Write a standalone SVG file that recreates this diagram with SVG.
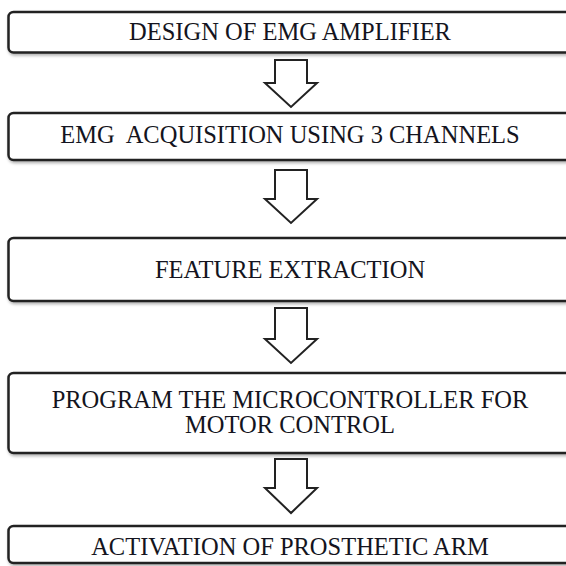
<svg xmlns="http://www.w3.org/2000/svg" width="566" height="566" viewBox="0 0 566 566">
<defs>
<style>
.box{fill:#fff;stroke:#222;stroke-width:2.5;filter:url(#sh)}
.arr{fill:#fff;stroke:#222;stroke-width:2;stroke-linejoin:miter}
.t{font-family:"Liberation Serif","Times New Roman",serif;font-size:24.5px;fill:#141420;text-anchor:middle}
</style>
<filter id="sh" x="-5%" y="-20%" width="110%" height="150%">
<feDropShadow dx="1" dy="2" stdDeviation="1.5" flood-color="#000" flood-opacity="0.3"/>
</filter>
</defs>
<rect width="566" height="566" fill="#fff"/>
<g id="connectors">
<path class="arr" d="M275,60 H307 V83 H317 L291,107 L265,83 H275 Z"/>
<path class="arr" d="M275,170 H307 V199 H317 L291,223 L265,199 H275 Z"/>
<path class="arr" d="M275,308 H307 V339 H317 L291,363 L265,339 H275 Z"/>
<path class="arr" d="M275,459 H307 V488 H317 L291,513 L265,488 H275 Z"/>
</g>
<g id="n1">
<rect class="box" x="8.5" y="12" width="575" height="40.5" rx="5"/>
<text class="t" x="290" y="40">DESIGN OF EMG AMPLIFIER</text>
</g>
<g id="n2">
<rect class="box" x="8.5" y="113" width="575" height="47" rx="5"/>
<text class="t" x="290" y="143" xml:space="preserve">EMG  ACQUISITION USING 3 CHANNELS</text>
</g>
<g id="n3">
<rect class="box" x="8.5" y="238" width="575" height="63" rx="5"/>
<text class="t" x="290" y="278">FEATURE EXTRACTION</text>
</g>
<g id="n4">
<rect class="box" x="8.5" y="373" width="575" height="80" rx="5"/>
<text class="t" x="290" y="408">PROGRAM THE MICROCONTROLLER FOR</text>
<text class="t" x="290" y="433">MOTOR CONTROL</text>
</g>
<g id="n5">
<rect class="box" x="8.5" y="526" width="575" height="37" rx="5"/>
<text class="t" x="290" y="555">ACTIVATION OF PROSTHETIC ARM</text>
</g>
</svg>
